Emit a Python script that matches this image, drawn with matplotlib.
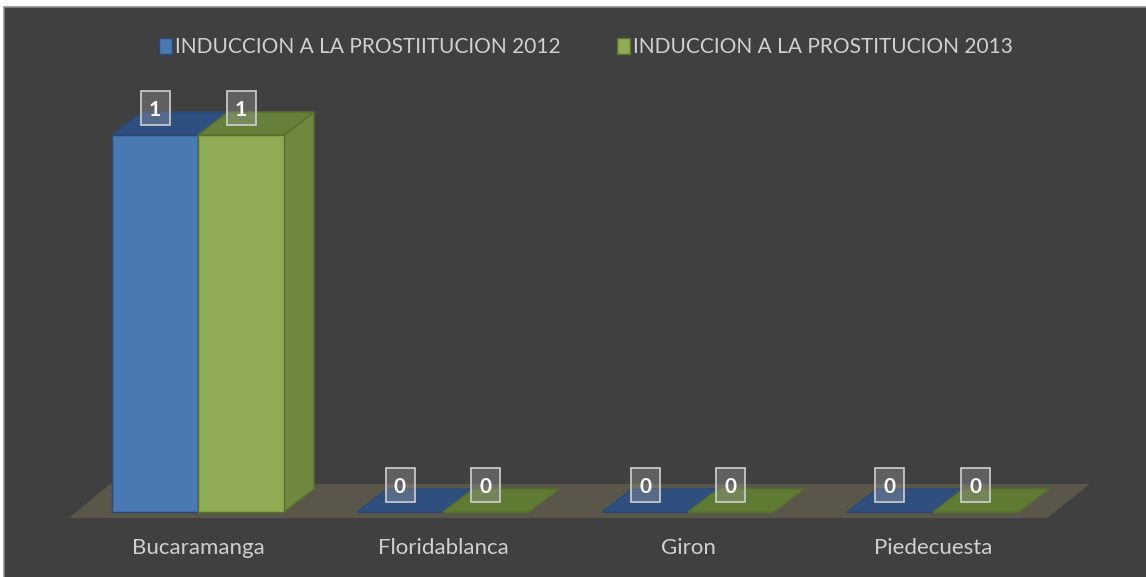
import matplotlib
matplotlib.use("Agg")
import matplotlib.pyplot as plt
from matplotlib.patches import Polygon, Rectangle
import numpy as np

categories = ["Bucaramanga", "Floridablanca", "Giron", "Piedecuesta"]
series_names = ["INDUCCION A LA PROSTIITUCION 2012", "INDUCCION A LA PROSTITUCION 2013"]
values_2012 = [1, 0, 0, 0]
values_2013 = [1, 0, 0, 0]

W, H = 1146, 577
fig = plt.figure(figsize=(W / 100, H / 100), dpi=100, facecolor="white")

# chart area background with border (only top/left edges visible)
bg = Rectangle((4 / W, -0.05), 1.05, 1.05 - 7.5 / H, transform=fig.transFigure,
               facecolor="#404040", edgecolor="#8c8c8c", linewidth=1.2, zorder=-10)
fig.patches.append(bg)

ax = fig.add_axes([0, 0, 1, 1])
ax.set_facecolor("none")
ax.axis("off")
ax.set_zorder(1)

# pixel-based scales
px_x = 245.0   # pixels per category
px_y = 377.0   # pixels per unit value
x0_px = 198.0  # pixel x of category 0 center
y0_px = 65.0   # pixel y (from bottom) of value 0
ax.set_xlim(-x0_px / px_x, (W - x0_px) / px_x)
ax.set_ylim(-y0_px / px_y, (H - y0_px) / px_y)

bw = 86 / px_x
ddx = 30 / px_x
ddy = 23 / px_y

# floor
fl_front = -6 / px_y
fl_back = 28 / px_y
floor = Polygon([(-129 / px_x, fl_front), (849 / px_x, fl_front),
                 (892 / px_x, fl_back), (-88 / px_x, fl_back)],
                closed=True, facecolor="#5a5649", edgecolor="none", zorder=1)
ax.add_patch(floor)

styles = [
    dict(front="#4a78b2", top="#2e5081", side="#3d6597", edge="#2b4a73", flat="#2f507f"),
    dict(front="#8fac55", top="#667f3a", side="#6f8840", edge="#56702c", flat="#5e7a33"),
]

box_w = 29 / px_x
box_h = 34 / px_y

x = np.arange(len(categories))
handles = []
for si, (vals, st) in enumerate(zip([values_2012, values_2013], styles)):
    offs = -bw / 2 if si == 0 else bw / 2
    xs = x + offs
    bars = ax.bar(xs, vals, width=bw, color=st["front"], edgecolor=st["edge"],
                  linewidth=1.0, zorder=3 + si, label=series_names[si])
    handles.append(bars)
    for rect, v in zip(bars, vals):
        xl = rect.get_x()
        xr = xl + rect.get_width()
        h = rect.get_height()
        if h > 0:
            top = Polygon([(xl, h), (xr, h), (xr + ddx, h + ddy), (xl + ddx, h + ddy)],
                          closed=True, facecolor=st["top"], edgecolor=st["edge"],
                          linewidth=1.0, zorder=3 + si)
            side = Polygon([(xr, 0), (xr + ddx, ddy), (xr + ddx, h + ddy), (xr, h)],
                           closed=True, facecolor=st["side"], edgecolor=st["edge"],
                           linewidth=1.0, zorder=2.5 + si)
            ax.add_patch(side)
            ax.add_patch(top)
        else:
            flat = Polygon([(xl, 0), (xr, 0), (xr + ddx, ddy), (xl + ddx, ddy)],
                           closed=True, facecolor=st["flat"], edgecolor=st["edge"],
                           linewidth=1.0, zorder=3 + si)
            ax.add_patch(flat)
        cx = xl + rect.get_width() / 2
        cy = h + 27 / px_y
        ax.add_patch(Rectangle((cx - box_w / 2, cy - box_h / 2), box_w, box_h,
                               facecolor=(0.62, 0.62, 0.62, 0.35), edgecolor="#d0d0d0",
                               linewidth=1.2, zorder=10))
        ax.text(cx, cy, str(v), ha="center", va="center_baseline",
                fontsize=15, fontweight="bold", color="white", family="Lato", zorder=11)

# category labels
for i, c in enumerate(categories):
    ax.text(x[i], -(548 - 512) / px_y, c, ha="center", va="center",
            fontsize=16, color="#d0d0d0", family="Lato")

leg = fig.legend(handles=handles, labels=series_names, loc="center",
                 bbox_to_anchor=(586 / W, 1 - 47 / H), ncol=2, frameon=False,
                 handlelength=0.6, handleheight=0.8, handletextpad=0.15, columnspacing=2.7,
                 prop=dict(family="Lato", size=15))
for t in leg.get_texts():
    t.set_color("#d0d0d0")

fig.savefig("out.png", dpi=100, facecolor=fig.get_facecolor())
